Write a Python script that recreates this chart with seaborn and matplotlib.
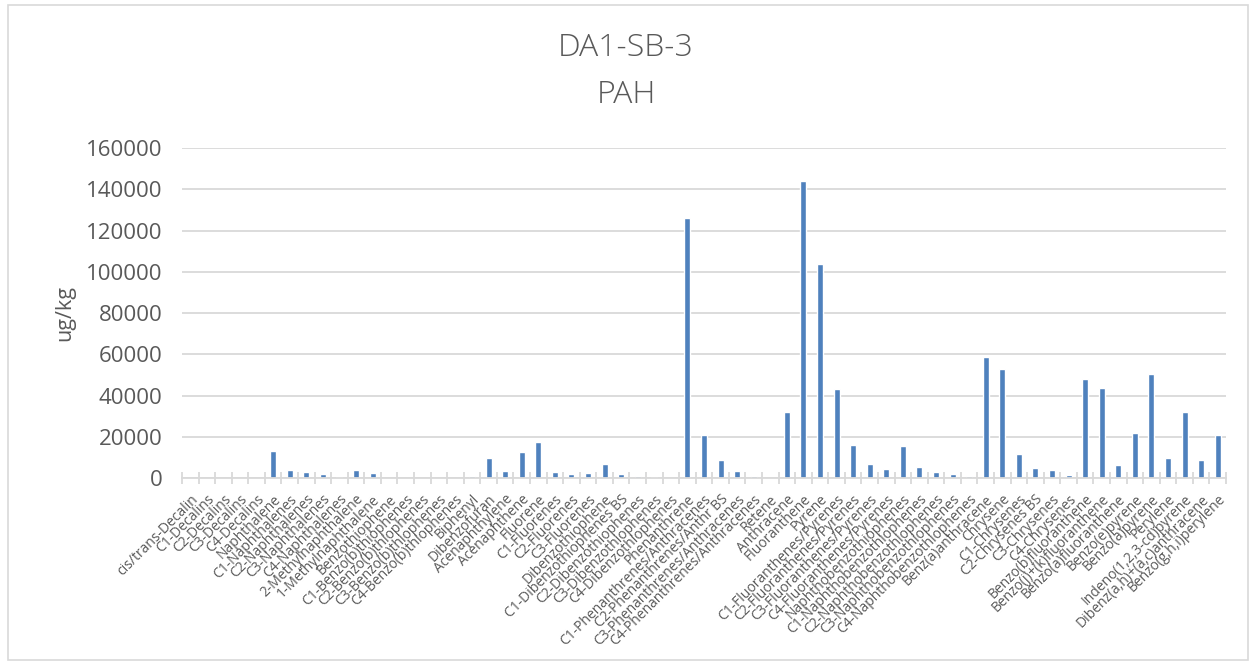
import matplotlib
matplotlib.use("Agg")
import matplotlib.pyplot as plt
import seaborn as sns
import pandas as pd
from matplotlib.patches import Rectangle

categories = [
    "cis/trans-Decalin", "C1-Decalins", "C2-Decalins", "C3-Decalins", "C4-Decalins",
    "Naphthalene", "C1-Naphthalenes", "C2-Naphthalenes", "C3-Naphthalenes", "C4-Naphthalenes",
    "2-Methylnaphthalene", "1-Methylnaphthalene", "Benzothiophene",
    "C1-Benzo(b)thiophenes", "C2-Benzo(b)thiophenes", "C3-Benzo(b)thiophenes", "C4-Benzo(b)thiophenes",
    "Biphenyl", "Dibenzofuran", "Acenaphthylene", "Acenaphthene", "Fluorene",
    "C1-Fluorenes", "C2-Fluorenes", "C3-Fluorenes", "Dibenzothiophene",
    "C1-Dibenzothiophenes BS", "C2-Dibenzothiophenes", "C3-Dibenzothiophenes", "C4-Dibenzothiophenes",
    "Phenanthrene", "C1-Phenanthrenes/Anthracenes", "C2-Phenanthrenes/Anthr BS",
    "C3-Phenanthrenes/Anthracenes", "C4-Phenanthrenes/Anthracenes", "Retene",
    "Anthracene", "Fluoranthene", "Pyrene",
    "C1-Fluoranthenes/Pyrenes", "C2-Fluoranthenes/Pyrenes", "C3-Fluoranthenes/Pyrenes",
    "C4-Fluoranthenes/Pyrenes", "Naphthobenzothiophenes",
    "C1-Naphthobenzothiophenes", "C2-Naphthobenzothiophenes", "C3-Naphthobenzothiophenes",
    "C4-Naphthobenzothiophenes", "Benz(a)anthracene", "Chrysene",
    "C1-Chrysenes", "C2-Chrysenes BS", "C3-Chrysenes", "C4-Chrysenes",
    "Benzo(b)fluoranthene", "Benzo(j)+(k)fluoranthene", "Benzo(a)fluoranthene",
    "Benzo(e)pyrene", "Benzo(a)pyrene", "Perylene",
    "Indeno(1,2,3-cd)pyrene", "Dibenz(a,h)+(a,c)anthracene", "Benzo(g,h,i)perylene",
]

values = [
    0, 0, 0, 0, 0,
    13300, 4100, 3100, 1700, 700,
    3900, 2200, 200,
    150, 100, 0, 0,
    900, 9500, 3300, 12700, 17400,
    2900, 1900, 2400, 6600,
    1900, 1100, 600, 150,
    126000, 21000, 8900,
    3300, 900, 0,
    31800, 144000, 104000,
    43200, 16000, 6900,
    4200, 15400,
    5300, 2900, 1800,
    1100, 58800, 53000,
    11800, 4800, 3900, 1500,
    48000, 43800, 6400,
    22000, 50500, 9900,
    31800, 8900, 20700,
]

yticks = [0, 20000, 40000, 60000, 80000, 100000, 120000, 140000, 160000]

df = pd.DataFrame({"compound": categories, "value": values})

sns.set_theme(style="white")
plt.rcParams["font.family"] = ["Open Sans", "DejaVu Sans"]

grey = "#595959"
fig = plt.figure(figsize=(12.52, 6.66), dpi=100)
ax = fig.add_axes([182 / 1252, 1 - 478 / 666, (1226 - 182) / 1252, (478 - 148) / 666])

sns.barplot(data=df, x="compound", y="value", color="#4F81BD", width=0.36,
            saturation=1, ax=ax, zorder=3)

ax.set_xlim(-0.5, len(categories) - 0.5)
ax.set_ylim(0, 160000)
ax.set_yticks(yticks)
ax.set_yticklabels([str(v) for v in yticks], fontsize=16, color=grey)
ax.yaxis.grid(True, color="#D9D9D9", linewidth=1.3, zorder=0)
ax.xaxis.grid(False)
for s in ["top", "right", "left"]:
    ax.spines[s].set_visible(False)
ax.spines["bottom"].set_color("#D9D9D9")
ax.spines["bottom"].set_linewidth(1.3)
ax.spines["bottom"].set_zorder(4)

ax.set_xticks(range(len(categories)))
ax.set_xticklabels(categories, rotation=45, ha="right", rotation_mode="anchor",
                   fontsize=10, color=grey)
ax.tick_params(axis="x", which="major", length=0, pad=10)
ax.set_xticks([i - 0.5 for i in range(len(categories) + 1)], minor=True)
ax.tick_params(axis="x", which="minor", length=9, width=1.3, color="#D9D9D9",
               direction="inout", bottom=True)
ax.tick_params(axis="y", length=0, pad=14)

ax.set_xlabel("")
ax.set_ylabel("ug/kg", fontsize=15.5, color=grey, labelpad=8)

fig.text(0.5, 1 - 48 / 666, "DA1-SB-3", ha="center", va="center", fontsize=23,
         color=grey, fontweight="light")
fig.text(0.5, 1 - 95 / 666, "PAH", ha="center", va="center", fontsize=23,
         color=grey, fontweight="light")

fig.patches.append(Rectangle((8 / 1252, 6 / 666), 1240 / 1252, 655 / 666,
                             transform=fig.transFigure, fill=False,
                             edgecolor="#D9D9D9", linewidth=1.2))

fig.savefig("out.png", dpi=100)
